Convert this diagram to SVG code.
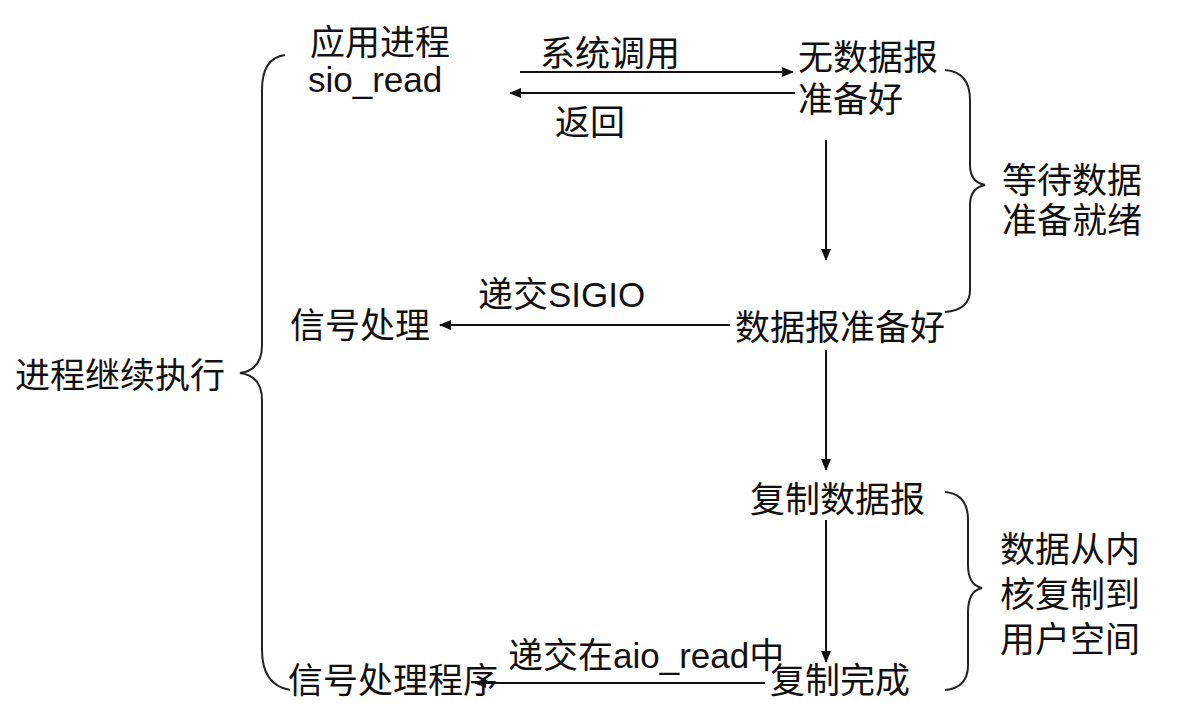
<svg xmlns="http://www.w3.org/2000/svg" width="1180" height="720" viewBox="0 0 1180 720">
<defs>
<marker id="ah" markerWidth="12" markerHeight="10" refX="11" refY="5" orient="auto" markerUnits="userSpaceOnUse"><path d="M0,0 L12,5 L0,10 Z" fill="#111"/></marker>
<style>
text{font-family:"Liberation Sans","Noto Sans CJK SC",sans-serif;font-size:35px;fill:#111}
.c{stroke:#111;stroke-width:2;fill:none}
.b{stroke:#222;stroke-width:2;fill:none}
</style>
</defs>
<rect width="1180" height="720" fill="#fff"/>
<g id="n_app"><text x="310" y="55">应用进程</text><text x="308" y="92">sio_read</text></g>
<g id="n_nodata"><text x="798" y="70">无数据报</text><text x="798" y="112">准备好</text></g>
<g id="n_ready"><text x="735" y="340">数据报准备好</text></g>
<g id="n_sig1"><text x="290" y="338">信号处理</text></g>
<g id="n_copy"><text x="750" y="512">复制数据报</text></g>
<g id="n_done"><text x="770" y="693">复制完成</text></g>
<g id="n_sig2"><text x="288" y="693">信号处理程序</text></g>
<g id="n_wait"><text x="1002" y="193">等待数据</text><text x="1002" y="233">准备就绪</text></g>
<g id="n_kern"><text x="1000" y="562">数据从内</text><text x="1000" y="607">核复制到</text><text x="1000" y="652">用户空间</text></g>
<g id="n_cont"><text x="15" y="388">进程继续执行</text></g>
<g id="braces">
<path class="b" d="M285,55 Q262,58 262,90 L262,345 Q262,370 240,373 Q262,376 262,400 L262,650 Q262,685 290,690"/>
<path class="b" d="M945,70 Q970,72 970,100 L970,165 Q970,182 985,185 Q970,188 970,205 L970,290 Q970,310 945,312"/>
<path class="b" d="M945,492 Q968,494 968,520 L968,565 Q968,585 982,588 Q968,591 968,612 L968,665 Q968,688 945,690"/>
</g>
<g id="connectors">
<line class="c" x1="520" y1="72" x2="793" y2="72" marker-end="url(#ah)"/>
<text x="540" y="66">系统调用</text>
<line class="c" x1="795" y1="93" x2="510" y2="93" marker-end="url(#ah)"/>
<text x="555" y="135">返回</text>
<line class="c" x1="826" y1="140" x2="826" y2="260" marker-end="url(#ah)"/>
<line class="c" x1="730" y1="325" x2="440" y2="325" marker-end="url(#ah)"/>
<text x="478" y="307">递交SIGIO</text>
<line class="c" x1="826" y1="350" x2="826" y2="470" marker-end="url(#ah)"/>
<line class="c" x1="826" y1="520" x2="826" y2="662" marker-end="url(#ah)"/>
<line class="c" x1="765" y1="683" x2="475" y2="683" marker-end="url(#ah)"/>
<text x="508" y="668">递交在aio_read中</text>
</g>
</svg>
